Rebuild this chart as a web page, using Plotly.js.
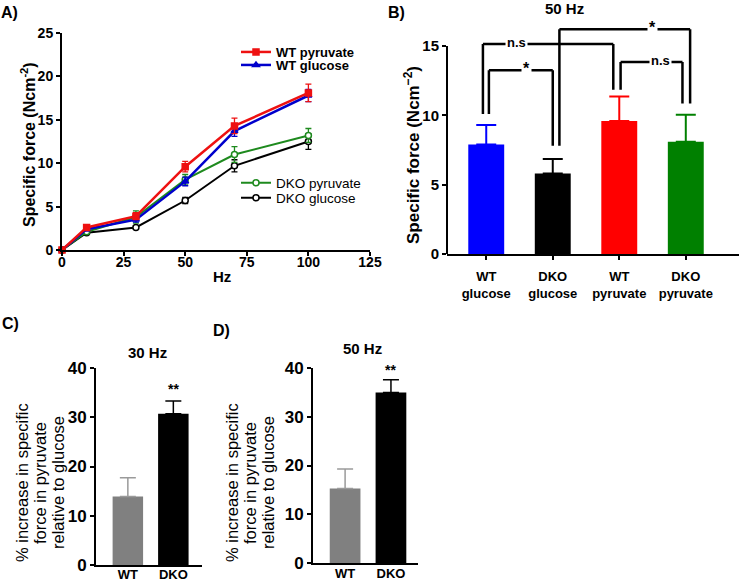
<!DOCTYPE html>
<html>
<head>
<meta charset="utf-8">
<script src="https://cdn.plot.ly/plotly-3.0.1.min.js"></script>
<style>
body{margin:0;background:#fff}
#chart{width:740px;height:581px}
</style>
</head>
<body>
<div id="chart"></div>
<script>

/* ==========================================
   DATA
========================================== */

// panel A : force-frequency
const hz = [0, 10, 30, 50, 70, 100];
const wtPyruvate = [0, 2.6, 3.9, 9.6, 14.3, 18.1];
const wtPyruvateErr = [0, 0.2, 0.4, 0.6, 0.9, 1.0];
const wtGlucose = [0, 2.4, 3.5, 7.9, 13.7, 17.8];
const wtGlucoseErr = [0, 0.2, 0.3, 0.5, 0.6, 0.7];
const dkoPyruvate = [0, 2.1, 3.8, 8.1, 11.0, 13.2];
const dkoPyruvateErr = [0, 0.2, 0.7, 0.6, 0.9, 0.8];
const dkoGlucose = [0, 2.0, 2.6, 5.7, 9.7, 12.5];
const dkoGlucoseErr = [0, 0.1, 0.2, 0.35, 0.7, 0.9];

// panel B : 50 Hz
const groups = ["WT<br>glucose", "DKO<br>glucose", "WT<br>pyruvate", "DKO<br>pyruvate"];
const force50 = [7.9, 5.8, 9.6, 8.1];
const force50Err = [1.4, 1.05, 1.75, 1.95];
const groupColors = ["#0000ff", "#000000", "#ff0000", "#008000"];

// significance brackets (a, b = bar index)
const brackets = [
    {a:0, b:1, top:13.25, legA:10.1, legB:7.8, offA:0.04, offB:0.0, label:"*", labelX:0.61},
    {a:0, b:2, top:15.15, legA:10.1, legB:11.85, offA:-0.05, offB:-0.09, label:"n.s", labelX:0.46},
    {a:2, b:3, top:13.85, legA:11.85, legB:10.85, offA:0.02, offB:-0.05, label:"n.s", labelX:2.62},
    {a:1, b:3, top:16.2, legA:7.8, legB:10.85, offA:0.1, offB:0.065, label:"*", labelX:2.5}
];

// panels C / D : % increase
const genotypes = ["WT", "DKO"];
const genotypeColors = ["#808080", "#000000"];
const genotypeErrColors = ["#9a9a9a", "#000000"];
const increase30 = [13.9, 30.7];
const increase30Err = [3.8, 2.6];
const increase50 = [15.3, 35.0];
const increase50Err = [4.0, 2.6];
const starsCD = ["", "**"];


/* ==========================================
   HELPERS
========================================== */

const W = 740, H = 581;
const FONT = "Liberation Sans, Arial, sans-serif";

function px(x){ return x / W; }
function py(y){ return 1 - y / H; }

function boldFont(size){
    return {family:FONT, size:size, color:"#000", weight:"bold"};
}

function lineTrace(y, err, name, color, symbol, fill, legend, width){
    return {
        x:hz, y:y, name:name, type:"scatter", mode:"lines+markers",
        xaxis:"x", yaxis:"y", legend:legend, cliponaxis:false,
        line:{color:color, width:width},
        marker:{symbol:symbol, size:6, color:fill, line:{color:color, width:1.5}},
        error_y:{type:"data", array:err, color:color, thickness:1.3, width:3}
    };
}

// one bar per trace so each error bar gets its own colour
function barTrace(cat, val, err, color, errColor, xa, ya, width, thick, cap){
    return {
        x:[cat], y:[val], type:"bar", xaxis:xa, yaxis:ya, showlegend:false,
        width:width, marker:{color:color},
        error_y:{type:"data", symmetric:false, array:[err], arrayminus:[0],
                 color:errColor, thickness:thick, width:cap}
    };
}

function axisCommon(){
    return {
        showline:true, linecolor:"#000", linewidth:2,
        ticks:"outside", ticklen:4, tickwidth:2, tickcolor:"#000",
        showgrid:false, zeroline:false, fixedrange:true
    };
}

function label(text, x, y, font, extra){
    return Object.assign({
        text:text, x:px(x), y:py(y), xref:"paper", yref:"paper",
        xanchor:"center", yanchor:"middle", showarrow:false, font:font
    }, extra || {});
}


/* ==========================================
   TRACES
========================================== */

const traces = [
    lineTrace(dkoGlucose, dkoGlucoseErr, "DKO glucose", "#000000", "circle", "#fff", "legend4", 2),
    lineTrace(dkoPyruvate, dkoPyruvateErr, "DKO pyruvate", "#1e8a1e", "circle", "#fff", "legend3", 2),
    lineTrace(wtGlucose, wtGlucoseErr, "WT glucose", "#0000cc", "triangle-up", "#0000cc", "legend2", 2.5),
    lineTrace(wtPyruvate, wtPyruvateErr, "WT pyruvate", "#ee1111", "square", "#ee1111", "legend", 2.5)
];

groups.forEach((g, i)=>{
    traces.push(barTrace(g, force50[i], force50Err[i], groupColors[i], groupColors[i],
        "x2", "y2", 0.54, 2, 10));
});

genotypes.forEach((g, i)=>{
    traces.push(barTrace(g, increase30[i], increase30Err[i], genotypeColors[i], genotypeErrColors[i],
        "x3", "y3", 0.67, 1.5, 8));
    traces.push(barTrace(g, increase50[i], increase50Err[i], genotypeColors[i], genotypeErrColors[i],
        "x4", "y4", 0.67, 1.5, 8));
});


/* ==========================================
   SHAPES + ANNOTATIONS
========================================== */

const shapes = [
    // B y axis line stops at 15
    {type:"line", xref:"x2 domain", yref:"y2", x0:0, x1:0, y0:0, y1:15,
     line:{color:"#000", width:2}}
];

const annotations = [];

brackets.forEach(b=>{
    const xa = b.a + b.offA;
    const xb = b.b + b.offB;
    const ln = {color:"#000", width:2.5};
    shapes.push({type:"line", xref:"x2", yref:"y2", x0:xa, x1:xa, y0:b.legA, y1:b.top, line:ln});
    shapes.push({type:"line", xref:"x2", yref:"y2", x0:xa, x1:xb, y0:b.top, y1:b.top, line:ln});
    shapes.push({type:"line", xref:"x2", yref:"y2", x0:xb, x1:xb, y0:b.top, y1:b.legB, line:ln});
    annotations.push({
        text:b.label, x:b.labelX, y:b.top, xref:"x2", yref:"y2", showarrow:false,
        xanchor:"center", yanchor:"middle",
        bgcolor:"#fff", borderpad:1, yshift:b.label === "*" ? 2 : 1,
        font:boldFont(b.label === "*" ? 16 : 13)
    });
});

genotypes.forEach((g, i)=>{
    if(!starsCD[i]) return;
    annotations.push({text:starsCD[i], x:g, y:increase30[i] + increase30Err[i], xref:"x3", yref:"y3",
        showarrow:false, xanchor:"center", yanchor:"bottom", yshift:2, font:boldFont(14)});
    annotations.push({text:starsCD[i], x:g, y:increase50[i] + increase50Err[i], xref:"x4", yref:"y4",
        showarrow:false, xanchor:"center", yanchor:"bottom", yshift:0, font:boldFont(14)});
});

// panel labels
annotations.push(label("A)", 9, 13, boldFont(16)));
annotations.push(label("B)", 396, 13, boldFont(16)));
annotations.push(label("C)", 10, 323, boldFont(16)));
annotations.push(label("D)", 221, 330, boldFont(16)));

// panel titles
annotations.push(label("50 Hz", 564, 9, boldFont(15)));
annotations.push(label("30 Hz", 147, 352, boldFont(15)));
annotations.push(label("50 Hz", 362, 348, boldFont(15)));

// axis titles
annotations.push(label("Specific force (Ncm<sup>-2</sup>)", 28, 145, boldFont(16), {textangle:-90}));
annotations.push(label("Hz", 222, 276, boldFont(15)));
annotations.push(label("Specific force (Ncm<sup>−2</sup>)", 412, 155, boldFont(17), {textangle:-90}));

// three line y titles for C and D
const pctTitle = ["% increase in specific", "force in pyruvate", "relative to glucose"];
[[22, 483], [232, 483]].forEach(pos=>{
    pctTitle.forEach((t, i)=>{
        annotations.push(label(t, pos[0] + i * 18, pos[1],
            {family:FONT, size:16.5, color:"#000"}, {textangle:-90}));
    });
});


/* ==========================================
   LAYOUT
========================================== */

function legendAt(x, y, bold){
    return {
        x:px(x), y:py(y), xanchor:"left", yanchor:"middle",
        bgcolor:"rgba(0,0,0,0)", itemwidth:30,
        font:bold ? boldFont(13) : {family:FONT, size:13.5, color:"#000"}
    };
}

const layout = {
    width:W, height:H,
    margin:{l:0, r:0, t:0, b:0},
    paper_bgcolor:"#fff", plot_bgcolor:"#fff",
    font:{family:FONT, color:"#000"},
    barmode:"overlay",
    legend:legendAt(236, 52, true),
    legend2:legendAt(236, 65, true),
    legend3:legendAt(236, 183, false),
    legend4:legendAt(236, 198, false),

    xaxis:Object.assign(axisCommon(), {
        domain:[px(62), px(370)], anchor:"y", range:[0, 125],
        tickvals:[0, 25, 50, 75, 100, 125], tickfont:boldFont(14),
        ticklabelstandoff:-6
    }),
    yaxis:Object.assign(axisCommon(), {
        domain:[py(250), py(33)], anchor:"x", range:[0, 25],
        tickvals:[0, 5, 10, 15, 20, 25], tickfont:boldFont(14)
    }),

    xaxis2:Object.assign(axisCommon(), {
        domain:[px(447), px(739)], anchor:"y2", range:[-0.59, 3.8],
        tickfont:boldFont(13), ticklabelstandoff:5
    }),
    yaxis2:Object.assign(axisCommon(), {
        domain:[py(254), py(254 - 17 * (208 / 15))], anchor:"x2", range:[0, 17],
        showline:false, tickvals:[0, 5, 10, 15], tickfont:boldFont(15)
    }),

    xaxis3:Object.assign(axisCommon(), {
        domain:[px(96), px(202)], anchor:"y3", range:[-0.7, 1.63],
        tickfont:boldFont(13), ticks:"", ticklabelstandoff:-4
    }),
    yaxis3:Object.assign(axisCommon(), {
        domain:[py(565), py(368)], anchor:"x3", range:[0, 40],
        tickvals:[0, 10, 20, 30, 40], tickfont:boldFont(17)
    }),

    xaxis4:Object.assign(axisCommon(), {
        domain:[px(313), px(418)], anchor:"y4", range:[-0.7, 1.59],
        tickfont:boldFont(13), ticks:"", ticklabelstandoff:-3
    }),
    yaxis4:Object.assign(axisCommon(), {
        domain:[py(563), py(368)], anchor:"x4", range:[0, 40],
        tickvals:[0, 10, 20, 30, 40], tickfont:boldFont(17)
    }),

    shapes:shapes,
    annotations:annotations
};

Plotly.newPlot("chart", traces, layout, {displayModeBar:false, staticPlot:true});

</script>
</body>
</html>
